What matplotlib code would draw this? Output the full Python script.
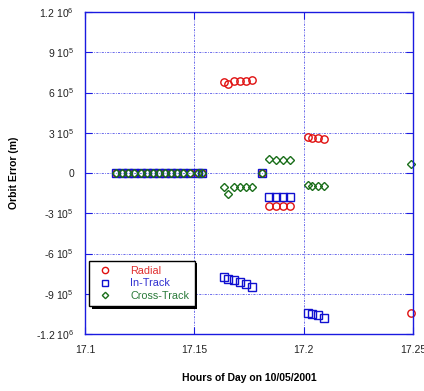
import matplotlib
matplotlib.use("Agg")
import matplotlib.pyplot as plt
from matplotlib.ticker import FixedLocator
from matplotlib.patches import Rectangle

# ---- data (hours, metres) ----
t_zero = [17.1142, 17.1170, 17.1198, 17.1226, 17.1254, 17.1282, 17.1310, 17.1338,
          17.1366, 17.1394, 17.1422, 17.1450, 17.1478, 17.1515, 17.1535]
t_a = [17.1635, 17.1653, 17.1680, 17.1708, 17.1735, 17.1763]
t_b = [17.1808]
t_c = [17.1840, 17.1872, 17.1904, 17.1936]
t_d = [17.2018, 17.2037, 17.2064, 17.2091]
t_e = [17.2489]

radial_zero = [0] * len(t_zero)
radial_a = [680e3, 665e3, 685e3, 685e3, 687e3, 690e3]
radial_b = [0]
radial_c = [-245e3, -248e3, -248e3, -248e3]
radial_d = [268e3, 262e3, 258e3, 256e3]
radial_e = [-1041e3]

intrack_zero = [0] * len(t_zero)
intrack_a = [-775e3, -790e3, -800e3, -815e3, -830e3, -850e3]
intrack_b = [0]
intrack_c = [-178e3, -180e3, -180e3, -178e3]
intrack_d = [-1040e3, -1048e3, -1062e3, -1080e3]

cross_zero = [0] * len(t_zero)
cross_a = [-105e3, -160e3, -105e3, -105e3, -105e3, -108e3]
cross_b = [0]
cross_c = [102e3, 100e3, 100e3, 98e3]
cross_d = [-92e3, -95e3, -95e3, -95e3]
cross_e = [65e3]

x_ticks = [17.1, 17.15, 17.2, 17.25]
x_tick_labels = ["17.1", "17.15", "17.2", "17.25"]
y_ticks = [-1.2e6, -9e5, -6e5, -3e5, 0, 3e5, 6e5, 9e5, 1.2e6]
y_tick_labels = [r"-1.2 10$^{6}$", r"-9 10$^{5}$", r"-6 10$^{5}$", r"-3 10$^{5}$", "0",
                 r"3 10$^{5}$", r"6 10$^{5}$", r"9 10$^{5}$", r"1.2 10$^{6}$"]

radial_t = t_zero + t_a + t_b + t_c + t_d + t_e
radial_v = radial_zero + radial_a + radial_b + radial_c + radial_d + radial_e
intrack_t = t_zero + t_a + t_b + t_c + t_d
intrack_v = intrack_zero + intrack_a + intrack_b + intrack_c + intrack_d
cross_t = t_zero + t_a + t_b + t_c + t_d + t_e
cross_v = cross_zero + cross_a + cross_b + cross_c + cross_d + cross_e

plt.rcParams['font.family'] = ['Liberation Sans', 'DejaVu Sans']
plt.rcParams['mathtext.fontset'] = 'custom'
plt.rcParams['mathtext.rm'] = 'Liberation Sans'

RED = '#e01010'
BLUE = '#1010d0'
GREEN = '#1a6e1a'
AX = '#1a1ae0'

fig = plt.figure(figsize=(4.24, 3.91), dpi=100)
ax = fig.add_axes([85/424, 1 - 334/391, (413-85)/424, (334-12)/391])

ax.plot(radial_t, radial_v, linestyle='none', marker='o', markersize=5.3,
        markerfacecolor='none', markeredgecolor=RED, markeredgewidth=1.0, label='Radial', clip_on=False)
ax.plot(intrack_t, intrack_v, linestyle='none', marker='s', markersize=5.3,
        markerfacecolor='none', markeredgecolor=BLUE, markeredgewidth=1.0, label='In-Track', clip_on=False)
ax.plot(cross_t, cross_v, linestyle='none', marker='D', markersize=3.8,
        markerfacecolor='none', markeredgecolor=GREEN, markeredgewidth=1.0, label='Cross-Track', clip_on=False)

ax.set_xlim(17.1, 17.25)
ax.set_ylim(-1.2e6, 1.2e6)
ax.xaxis.set_major_locator(FixedLocator(x_ticks))
ax.set_xticklabels(x_tick_labels)
ax.yaxis.set_major_locator(FixedLocator(y_ticks))
ax.set_yticklabels(y_tick_labels)

ax.grid(True, color=AX, linestyle=(0, (2.5, 1.5, 1, 1.5)), linewidth=0.6, alpha=0.75)
ax.set_axisbelow(True)
for s in ax.spines.values():
    s.set_color(AX)
    s.set_linewidth(1.0)
ax.tick_params(direction='in', length=5, width=0.8, color=AX, labelsize=7.5,
               labelcolor='#222222', top=True, right=True, pad=8)

ax.set_xlabel("Hours of Day on 10/05/2001", fontsize=7.5, fontweight='bold', labelpad=13)
ax.set_ylabel("Orbit Error (m)", fontsize=7.5, fontweight='bold', labelpad=12)

leg = ax.legend(loc='lower left', bbox_to_anchor=(4/328, 28/322), fontsize=7.8, frameon=True,
                fancybox=False, shadow=False, edgecolor='black', markerscale=0.85,
                borderpad=0.5, handletextpad=1.3, labelspacing=0.2, borderaxespad=0, handlelength=2.0)
leg.get_frame().set_linewidth(1.0)
leg.get_frame().set_alpha(1.0)
leg.set_zorder(10)
for txt, c in zip(leg.get_texts(), ['#e03030', '#3030d0', '#2a7a3a']):
    txt.set_color(c)

fig.canvas.draw()
bb = leg.get_window_extent()
shadow = Rectangle((bb.x0 + 2.5, bb.y0 - 2.5), bb.width, bb.height, transform=None,
                   facecolor='black', edgecolor='none', zorder=9)
ax.add_artist(shadow)

fig.savefig("out.png", dpi=100)
